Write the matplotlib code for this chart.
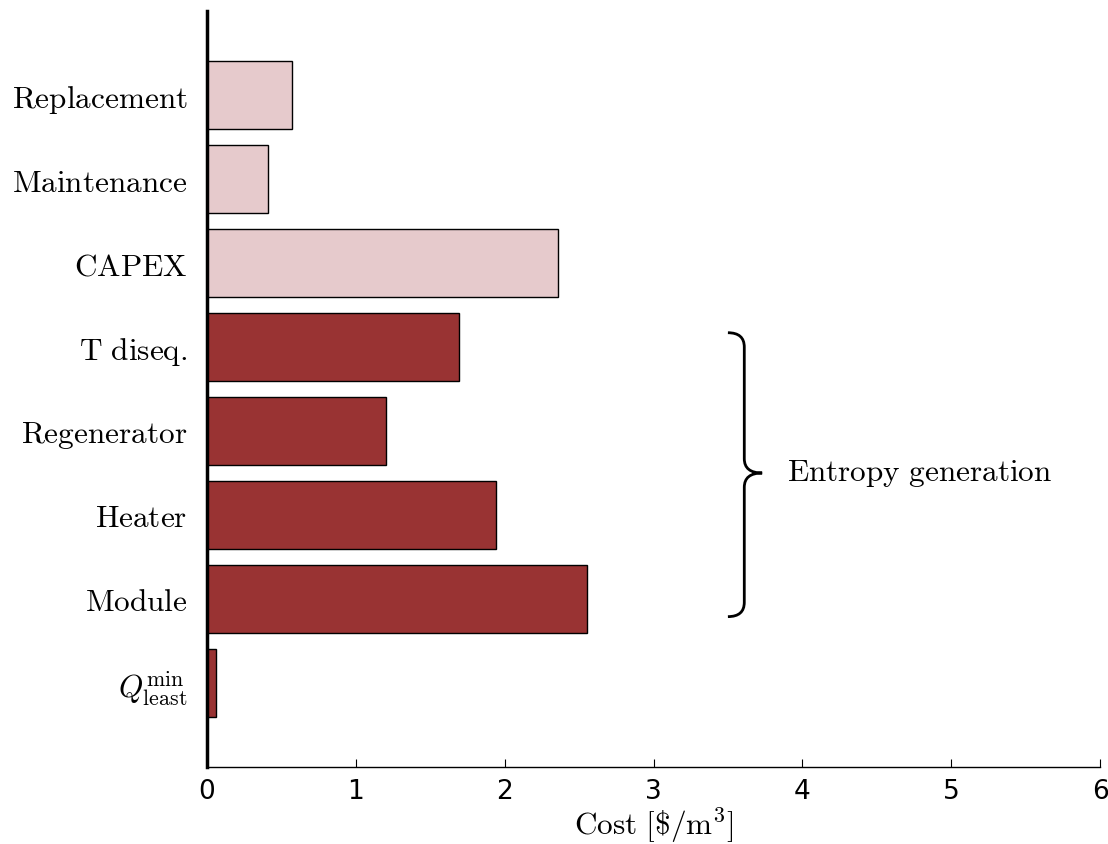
import numpy as np
import matplotlib.pyplot as plt
from matplotlib.path import Path
from matplotlib.patches import PathPatch

plt.rcParams['mathtext.fontset'] = 'cm'

# Data (bottom to top)
labels = [r'$Q^{\mathrm{min}}_{\mathrm{least}}$', 'Module', 'Heater', 'Regenerator',
          'T diseq.', 'CAPEX', 'Maintenance', 'Replacement']
costs = [0.06, 2.55, 1.94, 1.20, 1.69, 2.36, 0.41, 0.57]
is_entropy = [True, True, True, True, True, False, False, False]

dark = '#993333'
light = '#e6cacc'
colors = [dark if e else light for e in is_entropy]

fig = plt.figure(figsize=(11.08, 8.45), dpi=100)
ax = fig.add_axes([207/1108, 1 - 768/845, (1100-207)/1108, (768-12)/845])

y = np.arange(len(labels))
ax.barh(y, costs, height=0.8, color=colors, edgecolor='black', linewidth=1.0)

ax.set_ylim(-1, 8)
ax.set_xlim(0, 6)
ax.set_yticks(y)
ylabels = [l if l.startswith('$') else r'$\mathrm{' + l.replace(' ', r'\ ') + '}$' for l in labels]
ax.set_yticklabels(ylabels, fontsize=22.5)
ax.tick_params(axis='y', length=0, pad=14)
ax.tick_params(axis='x', direction='in', length=6, labelsize=19, pad=8, top=False)
ax.set_xlabel(r'$\mathrm{Cost\ [\$/m^3]}$', fontsize=22.5, labelpad=0)

for s in ['top', 'right']:
    ax.spines[s].set_visible(False)
ax.spines['left'].set_linewidth(2.5)
ax.spines['bottom'].set_linewidth(1.0)

# curly brace for entropy generation group
x0, xm, xt = 3.5, 3.61, 3.73
ytop, ymid, ybot = 4.17, 2.5, 0.79
d = 0.17
verts = [(x0, ytop), (xm, ytop), (xm, ytop - d),
         (xm, ymid + d), (xm, ymid), (xt, ymid),
         (xm, ymid), (xm, ymid - d),
         (xm, ybot + d), (xm, ybot), (x0, ybot)]
codes = [Path.MOVETO, Path.CURVE3, Path.CURVE3,
         Path.LINETO, Path.CURVE3, Path.CURVE3,
         Path.CURVE3, Path.CURVE3,
         Path.LINETO, Path.CURVE3, Path.CURVE3]
ax.add_patch(PathPatch(Path(verts, codes), fill=False, lw=2, edgecolor='black',
                       clip_on=False))
ax.text(3.9, ymid, r'$\mathrm{Entropy\ generation}$', fontsize=22.5, va='center', ha='left')

fig.savefig('out.png', dpi=100)
